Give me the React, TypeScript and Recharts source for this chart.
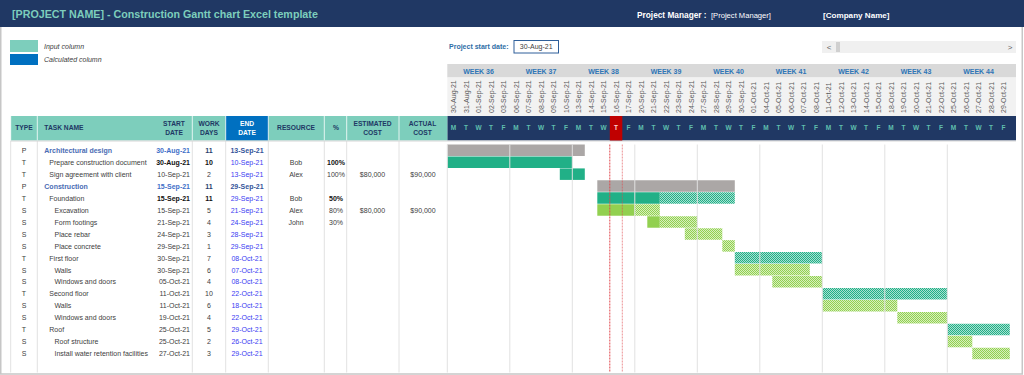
import { Bar, BarChart, Cell, ReferenceLine, XAxis, YAxis } from "recharts";

const today = "16-Sep-21";
const projectStart = "30-Aug-21";

const weekLabels = ["WEEK 36", "WEEK 37", "WEEK 38", "WEEK 39", "WEEK 40", "WEEK 41", "WEEK 42", "WEEK 43", "WEEK 44"];
const dayLabels = [
  "30-Aug-21", "31-Aug-21", "01-Sep-21", "02-Sep-21", "03-Sep-21",
  "06-Sep-21", "07-Sep-21", "08-Sep-21", "09-Sep-21", "10-Sep-21",
  "13-Sep-21", "14-Sep-21", "15-Sep-21", "16-Sep-21", "17-Sep-21",
  "20-Sep-21", "21-Sep-21", "22-Sep-21", "23-Sep-21", "24-Sep-21",
  "27-Sep-21", "28-Sep-21", "29-Sep-21", "30-Sep-21", "01-Oct-21",
  "04-Oct-21", "05-Oct-21", "06-Oct-21", "07-Oct-21", "08-Oct-21",
  "11-Oct-21", "12-Oct-21", "13-Oct-21", "14-Oct-21", "15-Oct-21",
  "18-Oct-21", "19-Oct-21", "20-Oct-21", "21-Oct-21", "22-Oct-21",
  "25-Oct-21", "26-Oct-21", "27-Oct-21", "28-Oct-21", "29-Oct-21",
];
const weekdayLetters = ["M", "T", "W", "T", "F"];

const types = ["P", "T", "T", "P", "T", "S", "S", "S", "S", "T", "S", "S", "T", "S", "S", "T", "S", "S"];
const taskNames = [
  "Architectural design", "Prepare construction document", "Sign agreement with client",
  "Construction", "Foundation", "Excavation", "Form footings", "Place rebar", "Place concrete",
  "First floor", "Walls", "Windows and doors", "Second floor", "Walls", "Windows and doors",
  "Roof", "Roof structure", "Install water retention facilities",
];
const startDates = [
  "30-Aug-21", "30-Aug-21", "10-Sep-21", "15-Sep-21", "15-Sep-21", "15-Sep-21", "21-Sep-21", "24-Sep-21", "29-Sep-21",
  "30-Sep-21", "30-Sep-21", "05-Oct-21", "11-Oct-21", "11-Oct-21", "19-Oct-21", "25-Oct-21", "25-Oct-21", "27-Oct-21",
];
const workDays = [11, 10, 2, 11, 11, 5, 4, 3, 1, 7, 6, 4, 10, 6, 4, 5, 2, 3];
const endDates = [
  "13-Sep-21", "10-Sep-21", "13-Sep-21", "29-Sep-21", "29-Sep-21", "21-Sep-21", "24-Sep-21", "28-Sep-21", "29-Sep-21",
  "08-Oct-21", "07-Oct-21", "08-Oct-21", "22-Oct-21", "18-Oct-21", "22-Oct-21", "29-Oct-21", "26-Oct-21", "29-Oct-21",
];
const resources = ["", "Bob", "Alex", "", "Bob", "Alex", "John", "", "", "", "", "", "", "", "", "", "", ""];
const percents = ["", "100%", "100%", "", "50%", "80%", "30%", "", "", "", "", "", "", "", "", "", "", ""];
const estCosts = ["", "", "$80,000", "", "", "$80,000", "", "", "", "", "", "", "", "", "", "", "", ""];
const actCosts = ["", "", "$90,000", "", "", "$90,000", "", "", "", "", "", "", "", "", "", "", "", ""];
const doneDays = [0, 10, 2, 0, 5, 3, 1, 0, 0, 0, 0, 0, 0, 0, 0, 0, 0, 0];

// styling
const boldRows = [1, 4];
const FONT = "'Liberation Sans', Arial, sans-serif";
const NAVY = "#203864";
const TEAL = "#7dcebc";
const BLUE = "#0070c0";
const TXT = "#404040";
const GANTT_L = 447.3;
const GANTT_R = 1016;
const PAD_R = 6.2;
const DAY_W = (GANTT_R - PAD_R - GANTT_L) / dayLabels.length;
const colLines = [10.7, 37.3, 192.3, 225.7, 268.3, 324.3, 346.7, 399];
const doneColor: Record<string, string> = { P: "#aba7a6", T: "#21b087", S: "#92d050" };
const restFill: Record<string, string> = { P: "#aba7a6", T: "url(#hatchT)", S: "url(#hatchS)" };

const rows = taskNames.map((name, i) => {
  const isP = types[i] === "P";
  return {
    row: i,
    name,
    offset: dayLabels.indexOf(startDates[i]),
    summary: isP ? workDays[i] : 0,
    done: isP ? 0 : doneDays[i],
    remain: isP ? 0 : workDays[i] - doneDays[i],
  };
});
const todayIdx = dayLabels.indexOf(today);

const DayTick = (props: any) => {
  const { x, payload } = props;
  const i = Math.round(payload.value - 0.5);
  const isToday = dayLabels[i] === today;
  return (
    <g>
      {i % 5 === 2 && (
        <text x={x} y={73.5} textAnchor="middle" fontSize={7} fontWeight="bold" fill="#2e75b6">
          {weekLabels[Math.floor(i / 5)]}
        </text>
      )}
      <text transform={`translate(${x + 2.5},113) rotate(-90)`} fontSize={7} fill="#595959">
        {dayLabels[i]}
      </text>
      {isToday && <rect x={x - DAY_W / 2} y={116} width={DAY_W} height={24.5} fill="#c00000" />}
      <text x={x} y={130} textAnchor="middle" fontSize={6.5} fontWeight="bold" fill={isToday ? "#ffd0d0" : "#5fbfae"}>
        {weekdayLetters[i % 5]}
      </text>
    </g>
  );
};

const RowTick = (props: any) => {
  const { y, payload } = props;
  const i = Number(payload.value);
  const t = types[i];
  const isP = t === "P";
  const bold = boldRows.includes(i);
  const b = y + 2.5;
  const indent = t === "P" ? 44.3 : t === "T" ? 49.3 : 54.5;
  return (
    <g fontSize={7} fill={TXT}>
      <text x={24} y={b} textAnchor="middle">{t}</text>
      <text x={indent} y={b} fontWeight={isP ? "bold" : "normal"} fill={isP ? "#4a6cb4" : TXT}>{taskNames[i]}</text>
      <text x={190} y={b} textAnchor="end" fontWeight={isP || bold ? "bold" : "normal"} fill={isP ? "#3f6fc8" : bold ? "#111" : TXT}>
        {startDates[i]}
      </text>
      <text x={209} y={b} textAnchor="middle" fontWeight={isP || bold ? "bold" : "normal"} fill={isP ? "#2a3f6e" : bold ? "#111" : TXT}>
        {workDays[i]}
      </text>
      <text x={247} y={b} textAnchor="middle" fontWeight={isP ? "bold" : "normal"} fill={isP ? "#34549a" : "#3b3bf2"}>
        {endDates[i]}
      </text>
      <text x={296} y={b} textAnchor="middle">{resources[i]}</text>
      <text x={336} y={b} textAnchor="middle" fontWeight={bold ? "bold" : "normal"} fill={bold ? "#111" : TXT}>{percents[i]}</text>
      <text x={372.5} y={b} textAnchor="middle">{estCosts[i]}</text>
      <text x={423} y={b} textAnchor="middle">{actCosts[i]}</text>
    </g>
  );
};

function Backdrop() {
  const heads: [number, string, string?][] = [
    [24, "TYPE"],
    [174, "START", "DATE"],
    [209, "WORK", "DAYS"],
    [247, "END", "DATE"],
    [296, "RESOURCE"],
    [336, "%"],
    [372.5, "ESTIMATED", "COST"],
    [422.5, "ACTUAL", "COST"],
  ];
  return (
    <svg width={1024} height={375} style={{ position: "absolute", left: 0, top: 0 }} fontFamily={FONT}>
      <rect x={0} y={0} width={1024} height={375} fill="#fff" />
      <rect x={0.75} y={0.5} width={1021.5} height={373.5} fill="none" stroke="#c6c6c6" strokeWidth={1.5} />
      <rect x={0} y={0} width={1024} height={27} fill={NAVY} />
      <text x={12} y={18.3} fontSize={10.7} fontWeight="bold" fill={TEAL}>
        [PROJECT NAME] - Construction Gantt chart Excel template
      </text>
      <text x={637} y={17.5} fontSize={8.3} fontWeight="bold" fill="#fff">Project Manager :</text>
      <text x={711} y={17.5} fontSize={7.6} fill="#fff">[Project Manager]</text>
      <text x={823} y={17.5} fontSize={8.1} fontWeight="bold" fill="#fff">[Company Name]</text>

      <rect x={10} y={40} width={28} height={12} fill={TEAL} />
      <rect x={10} y={54} width={28} height={11} fill={BLUE} />
      <text x={44} y={48.5} fontSize={7} fontStyle="italic" fill={TXT}>Input column</text>
      <text x={44} y={61.5} fontSize={7} fontStyle="italic" fill={TXT}>Calculated column</text>

      <text x={449} y={49.3} fontSize={7} fontWeight="bold" fill="#2e6ea6">Project start date:</text>
      <rect x={514} y={40.5} width={44.5} height={12.5} fill="#fff" stroke="#2e5f9a" strokeWidth={1} />
      <text x={536.2} y={49.3} fontSize={7} textAnchor="middle" fill={TXT}>{projectStart}</text>

      <rect x={822} y={41} width={194} height={12} fill="#f0f0f0" />
      <rect x={836} y={42} width={4} height={10} fill="#d0d0d0" />
      <text x={829} y={50} fontSize={8} textAnchor="middle" fill="#606060">{"<"}</text>
      <text x={1010} y={50} fontSize={8} textAnchor="middle" fill="#606060">{">"}</text>

      <rect x={GANTT_L} y={64} width={GANTT_R - GANTT_L} height={13.5} fill="#d9d9d9" />
      <rect x={GANTT_L} y={77.5} width={GANTT_R - GANTT_L} height={38.5} fill="#f2f2f2" />
      <rect x={GANTT_L} y={116} width={GANTT_R - GANTT_L} height={24.5} fill={NAVY} />

      <rect x={10.7} y={116} width={GANTT_L - 10.7} height={24.5} fill={TEAL} />
      <rect x={225.7} y={116} width={42.6} height={24.5} fill={BLUE} />
      {colLines.map((c) => (
        <line key={"h" + c} x1={c} x2={c} y1={116} y2={140.5} stroke="#fff" strokeWidth={0.8} />
      ))}
      {colLines.map((c) => (
        <line key={"b" + c} x1={c} x2={c} y1={141} y2={372.5} stroke="#e2e2e2" strokeWidth={1} />
      ))}
      <line x1={10.7} x2={GANTT_R} y1={141} y2={141} stroke="#d6d6d6" strokeWidth={1} />

      <g fontSize={6.7} fontWeight="bold" fill={NAVY}>
        <text x={44.3} y={130.3}>TASK NAME</text>
        {heads.map(([cx, a, b2]) => (
          <text key={a} textAnchor="middle" fill={a === "END" ? "#fff" : NAVY}>
            {b2 ? (
              <>
                <tspan x={cx} y={126}>{a}</tspan>
                <tspan x={cx} y={134.7}>{b2}</tspan>
              </>
            ) : (
              <tspan x={cx} y={130.3}>{a}</tspan>
            )}
          </text>
        ))}
      </g>
    </svg>
  );
}

export default function App() {
  return (
    <div style={{ position: "absolute", left: 0, top: 0, width: 1024, height: 375, fontFamily: FONT }}>
      <Backdrop />
      <div style={{ position: "absolute", left: 0, top: 0 }}>
        <BarChart
          width={1024}
          height={375}
          data={rows}
          layout="vertical"
          margin={{ top: 64, right: 1024 - GANTT_R, bottom: 2.5, left: 0 }}
          barSize={11.5}
        >
          <defs>
            <pattern id="hatchT" width={2} height={2} patternUnits="userSpaceOnUse">
              <rect width={2} height={2} fill="#a9e0d0" />
              <rect width={1} height={1} fill="#21b087" />
              <rect x={1} y={1} width={1} height={1} fill="#21b087" />
            </pattern>
            <pattern id="hatchS" width={2} height={2} patternUnits="userSpaceOnUse">
              <rect width={2} height={2} fill="#d6efbd" />
              <rect width={1} height={1} fill="#92d050" />
              <rect x={1} y={1} width={1} height={1} fill="#92d050" />
            </pattern>
          </defs>
          <XAxis
            type="number"
            orientation="top"
            domain={[0, dayLabels.length]}
            ticks={dayLabels.map((_, i) => i + 0.5)}
            interval={0}
            height={80.5}
            padding={{ left: 0, right: PAD_R }}
            axisLine={false}
            tickLine={false}
            tickSize={0}
            tickMargin={0}
            tick={DayTick}
          />
          <YAxis
            type="category"
            dataKey="row"
            width={GANTT_L}
            interval={0}
            padding={{ top: 0, bottom: 12.8 }}
            axisLine={false}
            tickLine={false}
            tickSize={0}
            tick={RowTick}
          />
          <Bar dataKey="offset" stackId="g" fill="transparent" isAnimationActive={false} />
          <Bar dataKey="summary" stackId="g" fill={doneColor.P} isAnimationActive={false} />
          <Bar dataKey="done" stackId="g" isAnimationActive={false}>
            {rows.map((r, i) => (
              <Cell key={i} fill={doneColor[types[i]]} />
            ))}
          </Bar>
          <Bar dataKey="remain" stackId="g" isAnimationActive={false}>
            {rows.map((r, i) => (
              <Cell key={i} fill={restFill[types[i]]} />
            ))}
          </Bar>
          {weekLabels.map((w, k) => (
            <ReferenceLine key={w} x={k * 5} stroke="#e2e2e2" strokeWidth={1} />
          ))}
          <ReferenceLine x={todayIdx} stroke="#e0474c" strokeDasharray="2 1" strokeWidth={1} />
          <ReferenceLine x={todayIdx + 1} stroke="#e0474c" strokeDasharray="2 1" strokeWidth={1} strokeOpacity={0.6} />
        </BarChart>
      </div>
    </div>
  );
}
